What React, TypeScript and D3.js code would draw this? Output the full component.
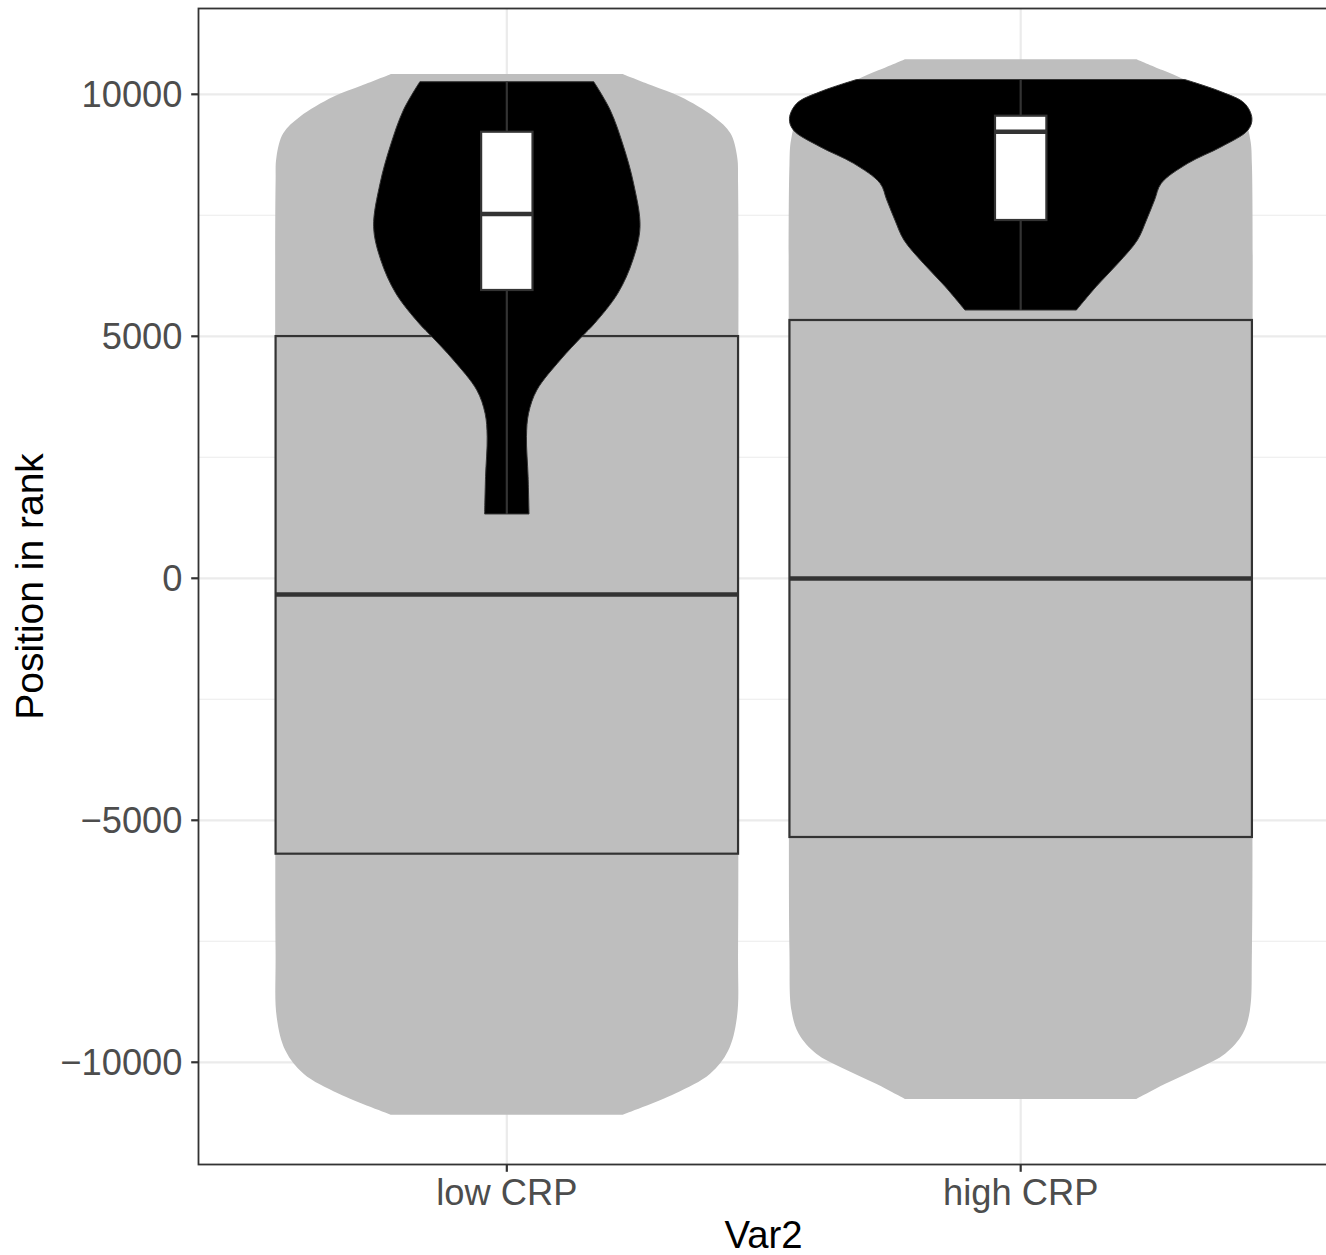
import React from "react";
import * as d3 from "d3";

// ---------- data ----------
const categories = ["low CRP", "high CRP"];
const yTicks = [-10000, -5000, 0, 5000, 10000];
const yMinorTicks = [-7500, -2500, 2500, 7500];
const xTitle = "Var2";
const yTitle = "Position in rank";

// grey (background) violins: [value, relative density 0..1]
const greyViolinLow: [number, number][] = [
  [10419, 0.5], [10180, 0.628], [9950, 0.751], [9537, 0.895], [9194, 0.967],
  [8711, 0.996], [8161, 1.0], [0, 1.0], [-7694, 1.0], [-9074, 0.995], [-9762, 0.957],
  [-10238, 0.879], [-10651, 0.726], [-11086, 0.5],
];
const greyViolinHigh: [number, number][] = [
  [10727, 0.5], [10500, 0.613], [10300, 0.71], [9886, 0.89], [9514, 0.965], [9059, 0.993],
  [8542, 1.0], [0, 1.0], [-7694, 1.0], [-8935, 0.991], [-9411, 0.96], [-9824, 0.884],
  [-10108, 0.776], [-10451, 0.623], [-10761, 0.5],
];
// black (foreground) violins
const blackViolinLow: [number, number][] = [
  [10260, 0.376], [9676, 0.447], [8917, 0.505], [8161, 0.548], [7264, 0.576],
  [6576, 0.545], [5888, 0.48], [5269, 0.38], [4992, 0.324], [4510, 0.231],
  [3890, 0.13], [3409, 0.094], [2926, 0.085], [2099, 0.092], [1329, 0.096],
];
const blackViolinHigh: [number, number][] = [
  [10306, 0.709], [10051, 0.868], [9814, 0.968], [9504, 1.0], [9262, 0.983],
  [8917, 0.868], [8574, 0.723], [8161, 0.608], [7816, 0.579], [7403, 0.544],
  [6990, 0.505], [6508, 0.421], [6025, 0.326], [5543, 0.241],
];
const greyViolins = [greyViolinLow, greyViolinHigh];
const blackViolins = [blackViolinLow, blackViolinHigh];

// grey boxplots: [q1, median, q3]
const greyBoxQ1 = [-5690, -5345];
const greyBoxMedian = [-335, -5];
const greyBoxQ3 = [5005, 5337];
// white boxplots
const whiteBoxLow = [1329, 5957, 7527, 9227, 10260]; // min, q1, med, q3, max
const whiteBoxHigh = [5543, 7403, 9227, 9558, 10306];
const whiteBoxes = [whiteBoxLow, whiteBoxHigh];

// ---------- layout ----------
const W = 1326;
const H = 1255;
const panel = { left: 198.5, right: 1329, top: 8.5, bottom: 1164.5 };
const FONT = "'Liberation Sans', Arial, Helvetica, sans-serif";

export default function App() {
  const x = d3
    .scalePoint<string>()
    .domain(categories)
    .range([panel.left, panel.right])
    .padding(0.6);
  const step = x.step();
  const y = d3.scaleLinear().domain([-12112, 11773]).range([panel.bottom, panel.top]);

  const maxHalf = step * 0.45;

  const violinPath = (cx: number, prof: [number, number][]) =>
    d3
      .area<[number, number]>()
      .y((d) => y(d[0]))
      .x0((d) => cx - d[1] * maxHalf)
      .x1((d) => cx + d[1] * maxHalf)
      .curve(d3.curveCatmullRom.alpha(0.5))(prof) || "";

  const grid = "#EBEBEB";
  const dark = "#333333";

  return (
    <svg width={W} height={H} style={{ display: "block", position: "absolute", left: 0, top: 0 }}>
      <defs>
        <clipPath id="panelClip">
          <rect x={panel.left} y={panel.top} width={panel.right - panel.left} height={panel.bottom - panel.top} />
        </clipPath>
      </defs>
      <rect x={0} y={0} width={W} height={H} fill="#FFFFFF" />
      <g clipPath="url(#panelClip)">
        {/* gridlines */}
        {yMinorTicks.map((t) => (
          <line key={"ym" + t} x1={panel.left} x2={panel.right} y1={y(t)} y2={y(t)} stroke={grid} strokeWidth={1.1} />
        ))}
        {yTicks.map((t) => (
          <line key={"y" + t} x1={panel.left} x2={panel.right} y1={y(t)} y2={y(t)} stroke={grid} strokeWidth={2.2} />
        ))}
        {categories.map((c) => (
          <line key={"x" + c} x1={x(c)!} x2={x(c)!} y1={panel.top} y2={panel.bottom} stroke={grid} strokeWidth={2.2} />
        ))}

        {/* grey violins */}
        {categories.map((c, i) => (
          <path key={"gv" + c} d={violinPath(x(c)!, greyViolins[i])} fill="#BEBEBE" stroke="none" />
        ))}
        {/* grey boxes */}
        {categories.map((c, i) => {
          const cx = x(c)!;
          const bw = step * 0.9;
          return (
            <g key={"gb" + c}>
              <rect
                x={cx - bw / 2}
                y={y(greyBoxQ3[i])}
                width={bw}
                height={y(greyBoxQ1[i]) - y(greyBoxQ3[i])}
                fill="#BEBEBE"
                stroke={dark}
                strokeWidth={2.2}
              />
              <line x1={cx - bw / 2} x2={cx + bw / 2} y1={y(greyBoxMedian[i])} y2={y(greyBoxMedian[i])} stroke={dark} strokeWidth={4.6} />
            </g>
          );
        })}
        {/* black violins */}
        {categories.map((c, i) => (
          <path key={"bv" + c} d={violinPath(x(c)!, blackViolins[i])} fill="#000000" stroke={dark} strokeWidth={1} />
        ))}
        {/* white boxes */}
        {categories.map((c, i) => {
          const cx = x(c)!;
          const bw = step * 0.1;
          const [mn, q1, md, q3, mx] = whiteBoxes[i];
          return (
            <g key={"wb" + c}>
              <line x1={cx} x2={cx} y1={y(mx)} y2={y(q3)} stroke={dark} strokeWidth={2.2} />
              <line x1={cx} x2={cx} y1={y(q1)} y2={y(mn)} stroke={dark} strokeWidth={2.2} />
              <rect x={cx - bw / 2} y={y(q3)} width={bw} height={y(q1) - y(q3)} fill="#FFFFFF" stroke={dark} strokeWidth={2.2} />
              <line x1={cx - bw / 2} x2={cx + bw / 2} y1={y(md)} y2={y(md)} stroke={dark} strokeWidth={4.6} />
            </g>
          );
        })}
      </g>

      {/* panel border */}
      <rect
        x={panel.left}
        y={panel.top}
        width={panel.right - panel.left}
        height={panel.bottom - panel.top}
        fill="none"
        stroke={dark}
        strokeWidth={1.8}
      />

      {/* y axis ticks and labels */}
      {yTicks.map((t) => (
        <g key={"yt" + t}>
          <line x1={panel.left - 7.3} x2={panel.left} y1={y(t)} y2={y(t)} stroke={dark} strokeWidth={2.2} />
          <text
            x={panel.left - 16}
            y={y(t)}
            dy="0.36em"
            textAnchor="end"
            fontFamily={FONT}
            fontSize={36.3}
            fill="#4D4D4D"
          >
            {t < 0 ? "\u2212" + Math.abs(t) : String(t)}
          </text>
        </g>
      ))}

      {/* x axis ticks and labels */}
      {categories.map((c) => (
        <g key={"xt" + c}>
          <line x1={x(c)!} x2={x(c)!} y1={panel.bottom} y2={panel.bottom + 7.3} stroke={dark} strokeWidth={2.2} />
          <text x={x(c)!} y={1205} textAnchor="middle" fontFamily={FONT} fontSize={36.3} fill="#4D4D4D">
            {c}
          </text>
        </g>
      ))}

      {/* axis titles */}
      <text x={763.5} y={1248} textAnchor="middle" fontFamily={FONT} fontSize={38.3} fill="#000000">
        {xTitle}
      </text>
      <text
        transform={`translate(43.3, ${(panel.top + panel.bottom) / 2}) rotate(-90)`}
        textAnchor="middle"
        fontFamily={FONT}
        fontSize={39}
        fill="#000000"
      >
        {yTitle}
      </text>
    </svg>
  );
}
